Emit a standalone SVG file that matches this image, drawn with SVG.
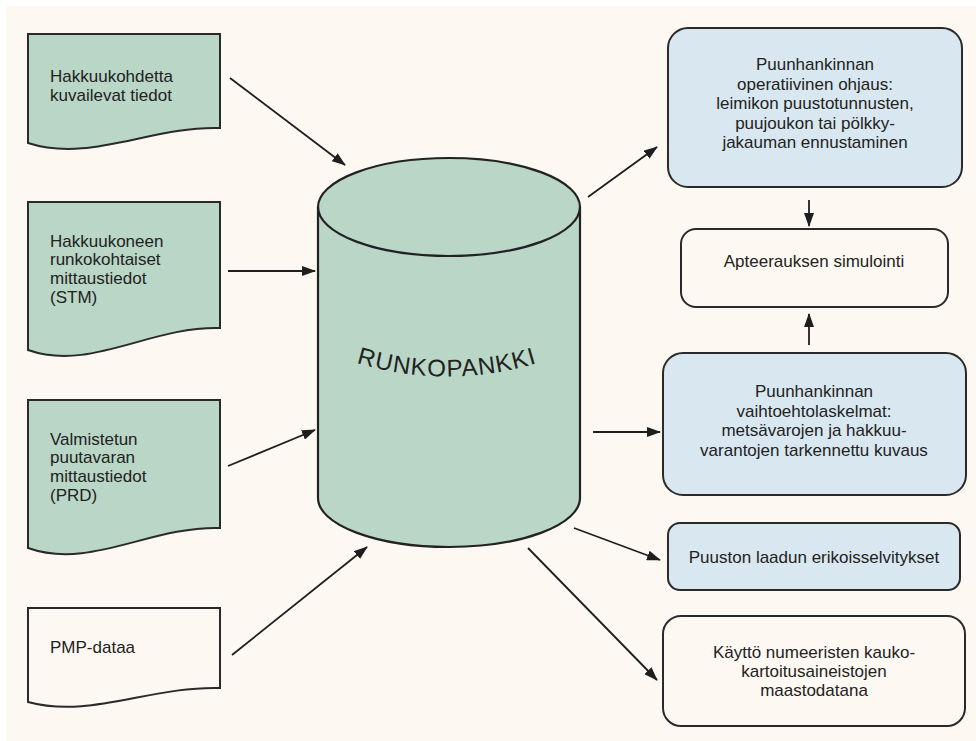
<svg xmlns="http://www.w3.org/2000/svg" width="976" height="741" viewBox="0 0 976 741">
<defs>
<style>
.doc{fill:#b9d6c6;stroke:#2a2a2a;stroke-width:2;stroke-linejoin:miter}
.docw{fill:#fdf9f2;stroke:#2a2a2a;stroke-width:2}
.cyl{fill:#b9d6c6;stroke:#222;stroke-width:2.2}
.bbox{fill:#d9e8f0;stroke:#2a2a2a;stroke-width:2}
.wbox{fill:#fdf9f2;stroke:#2a2a2a;stroke-width:2}
.t{font-family:"Liberation Sans",Arial,sans-serif;font-size:17px;fill:#222}
.c{text-anchor:middle}
.conn line{stroke:#1e1e1e;stroke-width:1.8;marker-end:url(#ah)}
</style>
<marker id="ah" markerUnits="userSpaceOnUse" markerWidth="14" markerHeight="10" refX="13" refY="5" orient="auto">
<path d="M0,0 L14,5 L0,10 Z" fill="#1e1e1e"/>
</marker>
<path id="arc" d="M350 361 Q447 392 544 361"/>
</defs>
<rect width="976" height="741" fill="#ffffff"/>
<rect x="6" y="6" width="970" height="735" fill="#fdf9f2"/>

<g id="doc1">
<path class="doc" d="M28 34 H220 V128 C150 126 90 163 28 143 Z"/>
<text class="t" x="50" y="82">Hakkuukohdetta</text>
<text class="t" x="50" y="101">kuvailevat tiedot</text>
</g>
<g id="doc2">
<path class="doc" d="M28 202 H220 V328 C150 326 90 372 28 350 Z"/>
<text class="t" x="50" y="246.5">Hakkuukoneen</text>
<text class="t" x="50" y="265.2">runkokohtaiset</text>
<text class="t" x="50" y="283.9">mittaustiedot</text>
<text class="t" x="50" y="302.6">(STM)</text>
</g>
<g id="doc3">
<path class="doc" d="M28 400 H220 V528 C150 526 90 570 28 548 Z"/>
<text class="t" x="50" y="444.6">Valmistetun</text>
<text class="t" x="50" y="463.3">puutavaran</text>
<text class="t" x="50" y="482">mittaustiedot</text>
<text class="t" x="50" y="500.7">(PRD)</text>
</g>
<g id="doc4">
<path class="docw" d="M28 608 H220 V688 C150 686 90 719 28 702 Z"/>
<text class="t" x="50" y="653">PMP-dataa</text>
</g>

<g id="runkopankki">
<path class="cyl" d="M318 207 V498 A131 49 0 0 0 580 498 V207 A131 49 0 0 0 318 207 Z"/>
<path d="M318 207 A131 49 0 0 0 580 207" fill="none" stroke="#222" stroke-width="2.2"/>
<text font-family="'Liberation Sans',Arial,sans-serif" font-size="24" fill="#222" letter-spacing="1"><textPath href="#arc" startOffset="50%" text-anchor="middle">RUNKOPANKKI</textPath></text>
</g>

<g id="ohjaus">
<rect class="bbox" x="668" y="28" width="294" height="159" rx="20"/>
<text class="t c" x="815" y="70">Puunhankinnan</text>
<text class="t c" x="815" y="89.5">operatiivinen ohjaus:</text>
<text class="t c" x="815" y="109">leimikon puustotunnusten,</text>
<text class="t c" x="815" y="128.5">puujoukon tai pölkky-</text>
<text class="t c" x="815" y="148">jakauman ennustaminen</text>
</g>
<g id="apteeraus">
<rect class="wbox" x="681" y="229" width="267" height="78" rx="15"/>
<text class="t c" x="814" y="267">Apteerauksen simulointi</text>
</g>
<g id="vaihtoehto">
<rect class="bbox" x="663" y="353" width="303" height="142" rx="20"/>
<text class="t c" x="814" y="397">Puunhankinnan</text>
<text class="t c" x="814" y="416.5">vaihtoehtolaskelmat:</text>
<text class="t c" x="814" y="436">metsävarojen ja hakkuu-</text>
<text class="t c" x="814" y="455.5">varantojen tarkennettu kuvaus</text>
</g>
<g id="laatu">
<rect class="bbox" x="668" y="523" width="292" height="67" rx="12"/>
<text class="t c" x="814" y="563">Puuston laadun erikoisselvitykset</text>
</g>
<g id="kaukokartoitus">
<rect class="wbox" x="663" y="616" width="302" height="110" rx="18"/>
<text class="t c" x="814" y="658">Käyttö numeeristen kauko-</text>
<text class="t c" x="814" y="677">kartoitusaineistojen</text>
<text class="t c" x="814" y="696">maastodatana</text>
</g>

<g id="connectors" class="conn">
<line x1="230" y1="78" x2="345" y2="165"/>
<line x1="228" y1="271" x2="315" y2="271"/>
<line x1="228" y1="466" x2="315" y2="430"/>
<line x1="232" y1="655" x2="367" y2="547"/>
<line x1="588" y1="197" x2="657" y2="147"/>
<line x1="593" y1="432" x2="660" y2="432"/>
<line x1="574" y1="528" x2="660" y2="560"/>
<line x1="528" y1="548" x2="657" y2="680"/>
<line x1="809" y1="200" x2="809" y2="226"/>
<line x1="809" y1="345" x2="809" y2="314"/>
</g>
</svg>
